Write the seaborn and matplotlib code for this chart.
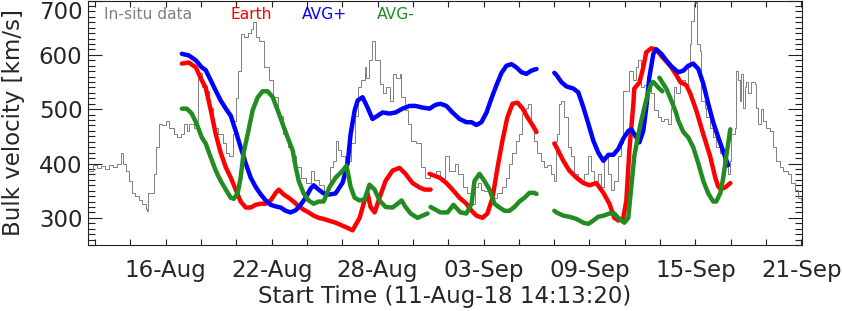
# -*- coding: utf-8 -*-
"""
Bulk velocity: in-situ data vs. model runs (Earth, AVG+, AVG-)
"""
import pandas as pd
import matplotlib
matplotlib.use('Agg')
import matplotlib.pyplot as plt
import matplotlib.dates as mdates
import matplotlib.ticker as mticker
import seaborn as sns

# 時間以 2018-08-16 00:00 起算的天數表示
ref_time = pd.Timestamp('2018-08-16')
start_time = pd.Timestamp('2018-08-11 14:13:20')
end_time = pd.Timestamp('2018-09-21 01:00:00')

# 實測資料 (灰色階梯線)
insitu_day = [-4.36, -4.13, -3.90, -3.68, -3.45, -3.23, -3.00, -2.77, -2.55, -2.43,
              -2.26, -2.09, -1.92, -1.75, -1.53, -1.36, -1.13, -1.08, -1.02, -0.79,
              -0.68, -0.57, -0.40, -0.23, 0.00, 0.17, 0.45, 0.62, 0.85, 1.02,
              1.19, 1.30, 1.58, 1.70, 1.81, 1.92, 2.04, 2.26, 2.43, 2.66,
              2.94, 3.23, 3.40, 3.57, 3.79, 3.85, 3.96, 4.07, 4.24, 4.41,
              4.64, 4.81, 4.92, 5.09, 5.26, 5.55, 5.83, 6.06, 6.34, 6.62,
              6.90, 7.19, 7.36, 7.64, 7.92, 8.21, 8.38, 8.66, 8.94, 9.17,
              9.28, 9.45, 9.62, 9.73, 9.90, 10.13, 10.30, 10.47, 10.70, 10.87,
              11.04, 11.26, 11.32, 11.54, 11.71, 11.88, 12.11, 12.28, 12.45, 12.68,
              12.85, 13.02, 13.24, 13.30, 13.53, 13.70, 13.87, 14.15, 14.43, 14.66,
              14.94, 15.28, 15.56, 15.79, 16.07, 16.36, 16.53, 16.81, 17.09, 17.32,
              17.49, 17.66, 17.88, 18.05, 18.34, 18.62, 18.79, 19.02, 19.30, 19.47,
              19.64, 19.86, 20.03, 20.20, 20.43, 20.54, 20.71, 20.88, 21.05, 21.28,
              21.45, 21.62, 21.84, 22.01, 22.13, 22.18, 22.30, 22.41, 22.58, 22.81,
              22.98, 23.15, 23.37, 23.54, 23.71, 23.94, 24.11, 24.28, 24.50, 24.67,
              24.84, 25.07, 25.24, 25.41, 25.64, 25.81, 25.92, 26.09, 26.26, 26.49,
              26.66, 26.77, 26.94, 27.11, 27.33, 27.50, 27.67, 27.90, 28.07, 28.24,
              28.47, 28.64, 28.81, 28.92, 29.15, 29.43, 29.60, 29.71, 29.77, 29.94,
              30.05, 30.11, 30.28, 30.33, 30.56, 30.62, 30.84, 31.01, 31.18, 31.41,
              31.58, 31.75, 31.86, 31.98, 32.03, 32.26, 32.31, 32.43, 32.54, 32.60,
              32.71, 32.82, 32.88, 32.99, 33.16, 33.39, 33.45, 33.56, 33.73, 33.84,
              34.01, 34.24, 34.41, 34.58, 34.80, 34.97, 35.26, 35.43, 35.65, 35.82,
              35.99]
insitu_speed = [387, 398, 392, 396, 390, 398, 394, 400, 420, 400,
                387, 368, 346, 340, 332, 326, 317, 313, 346, 346,
                380, 430, 473, 470, 479, 466, 454, 448, 454, 473,
                460, 473, 466, 478, 558, 567, 540, 534, 503, 466,
                454, 437, 420, 413, 454, 479, 520, 571, 639, 632,
                641, 648, 660, 632, 626, 577, 553, 522, 487, 454,
                430, 413, 393, 374, 365, 387, 370, 360, 345, 360,
                393, 405, 442, 424, 413, 381, 405, 437, 487, 540,
                553, 577, 558, 590, 626, 590, 547, 529, 540, 516,
                564, 558, 564, 522, 498, 473, 442, 437, 393, 374,
                381, 387, 374, 413, 387, 400, 381, 357, 345, 326,
                357, 364, 352, 350, 346, 337, 345, 357, 374, 400,
                420, 442, 454, 492, 503, 510, 473, 442, 420, 405,
                393, 398, 381, 368, 442, 454, 510, 516, 485, 430,
                413, 381, 374, 364, 381, 413, 387, 368, 381, 357,
                413, 381, 352, 368, 413, 437, 534, 534, 571, 553,
                577, 590, 540, 544, 540, 529, 498, 485, 479, 482,
                473, 503, 540, 530, 553, 547, 577, 620, 663, 695,
                700, 620, 608, 516, 503, 485, 466, 448, 430, 420,
                405, 393, 381, 405, 454, 466, 571, 553, 516, 564,
                503, 540, 550, 529, 550, 547, 503, 473, 500, 479,
                466, 460, 430, 405, 393, 387, 381, 364, 352, 337,
                332]

# Earth (紅)
earth_day = [
    [0.91, 1.30, 1.70, 2.04, 2.26, 2.55, 2.83, 3.11, 3.40, 3.68, 3.96, 4.24, 4.53,
     4.81, 5.09, 5.38, 5.66, 5.94, 6.23, 6.40, 6.68, 6.96, 7.24, 7.53, 7.81, 8.09,
     8.38, 8.66, 8.94, 9.62, 10.19, 10.58, 10.98, 11.26, 11.43, 11.60, 11.83, 12.11,
     12.45, 12.85, 13.24, 13.58, 13.98, 14.37, 14.66, 15.00],
    [14.94, 15.51, 15.90, 16.24, 16.64, 17.03, 17.32, 17.60, 17.94, 18.22, 18.51,
     18.79, 19.07, 19.35, 19.64, 19.92, 20.20, 20.49, 20.77, 21.00],
    [22.01, 22.13, 22.52, 22.86, 23.26, 23.66, 24.00, 24.39, 24.79, 25.13, 25.41,
     25.64, 25.92, 26.09, 26.26, 26.49, 26.54, 26.83, 27.05, 27.22, 27.50, 27.79,
     28.07, 28.35, 28.64, 28.92, 29.15, 29.49, 29.71, 30.05, 30.45, 30.84, 31.13,
     31.30, 31.46, 31.69, 31.98],
]
earth_speed = [
    [584, 586, 577, 553, 540, 498, 454, 420, 393, 374, 352, 330, 319,
     319, 324, 326, 326, 332, 346, 352, 343, 337, 330, 321, 315, 310,
     304, 300, 298, 291, 283, 277, 300, 332, 345, 320, 310, 337,
     368, 387, 392, 381, 364, 356, 352, 352],
    [381, 374, 364, 352, 337, 326, 313, 304, 300, 308, 337,
     392, 442, 485, 510, 512, 502, 485, 471, 458],
    [437, 430, 405, 387, 374, 364, 360, 364, 346, 326, 300,
     295, 300, 332, 424, 510, 538, 549, 577, 605, 612, 610,
     598, 588, 577, 563, 550, 544, 529, 498, 454, 413, 374,
     357, 353, 356, 364],
]

# AVG+ (藍)
avgp_day = [
    [0.91, 1.30, 1.70, 2.04, 2.26, 2.55, 2.83, 3.11, 3.40, 3.68, 3.96, 4.24, 4.53,
     4.81, 5.09, 5.38, 5.66, 5.94, 6.23, 6.51, 6.79, 7.07, 7.36, 7.64, 7.92, 8.21,
     8.38, 8.66, 8.94, 9.28, 9.62, 10.02, 10.30, 10.47, 10.70, 10.87, 11.15, 11.43,
     11.71, 12.00, 12.28, 12.68, 13.02, 13.41, 13.81, 14.15, 14.54, 14.94, 15.28,
     15.56, 15.90, 16.24, 16.64, 17.03, 17.32, 17.60, 17.88, 18.17, 18.45, 18.73,
     19.02, 19.30, 19.58, 19.86, 20.15, 20.43, 20.71, 21.00],
    [22.01, 22.13, 22.41, 22.69, 23.09, 23.37, 23.66, 23.94, 24.22, 24.50, 24.79,
     25.07, 25.35, 25.64, 25.92, 26.20, 26.37, 26.66, 26.83, 27.05, 27.22, 27.39,
     27.62, 27.79, 28.07, 28.35, 28.64, 28.92, 29.03, 29.32, 29.60, 29.88, 30.17,
     30.45, 30.73, 31.01, 31.30, 31.58, 31.86],
]
avgp_speed = [
    [602, 599, 590, 577, 572, 553, 534, 516, 501, 488, 460, 430, 400,
     374, 357, 343, 332, 324, 321, 319, 313, 310, 314, 324, 337, 354,
     360, 352, 345, 343, 345, 365, 400, 454, 498, 516, 522, 503,
     482, 488, 494, 492, 494, 501, 506, 506, 503, 501, 508,
     510, 506, 494, 482, 476, 476, 471, 476, 494, 520, 544,
     567, 580, 583, 577, 568, 565, 571, 574],
    [567, 563, 550, 542, 538, 531, 503, 473, 442, 420, 405,
     416, 416, 427, 446, 460, 463, 448, 439, 460, 503, 558,
     602, 610, 602, 590, 579, 571, 568, 571, 580, 584, 574,
     547, 510, 476, 448, 422, 397],
]

# AVG- (綠)
avgm_day = [
    [0.91, 1.19, 1.47, 1.75, 2.04, 2.26, 2.55, 2.83, 3.11, 3.40, 3.68, 3.85, 4.07,
     4.24, 4.41, 4.64, 4.92, 5.21, 5.49, 5.77, 6.06, 6.34, 6.62, 6.90, 7.19, 7.36,
     7.53, 7.81, 8.09, 8.38, 8.66, 8.94, 9.28, 9.62, 10.02, 10.24, 10.47, 10.70,
     10.98, 11.26, 11.54, 11.83, 12.11, 12.45, 12.85, 13.13, 13.36, 13.58, 13.87,
     14.26, 14.54, 14.83],
    [15.00, 15.56, 15.96, 16.30, 16.69, 17.03, 17.32, 17.49, 17.77, 18.05, 18.34,
     18.62, 18.90, 19.19, 19.47, 19.75, 20.03, 20.32, 20.60, 20.88, 21.00],
    [22.01, 22.13, 22.52, 22.86, 23.26, 23.66, 23.94, 24.22, 24.50, 24.79, 25.13,
     25.41, 25.69, 25.98, 26.20, 26.37, 26.54, 26.77, 26.94, 27.11, 27.33, 27.50,
     27.62, 27.79, 27.96, 28.13],
    [27.96, 28.35, 28.64, 28.92, 29.03, 29.32, 29.60, 29.88, 30.17, 30.45, 30.73,
     31.01, 31.18, 31.41, 31.58, 31.75, 31.98],
]
avgm_speed = [
    [501, 501, 492, 473, 448, 437, 411, 387, 368, 352, 337, 335, 345,
     374, 420, 454, 498, 522, 533, 533, 522, 498, 473, 448, 424, 393,
     368, 345, 332, 326, 330, 330, 357, 374, 387, 396, 357, 337,
     332, 334, 361, 352, 332, 320, 319, 326, 332, 320, 308,
     300, 304, 308],
    [320, 310, 310, 324, 310, 308, 326, 368, 381, 368, 352,
     326, 319, 313, 313, 320, 330, 337, 346, 346, 344],
    [313, 310, 304, 302, 298, 291, 289, 295, 302, 304, 308,
     308, 298, 291, 300, 357, 413, 454, 479, 503, 531, 547,
     550, 544, 538, 533],
    [558, 538, 516, 492, 479, 458, 448, 430, 400, 368, 345,
     330, 330, 345, 374, 413, 463],
]

y_ticks = [300, 400, 500, 600, 700]
legend_labels = ['In-situ data', 'Earth', 'AVG+', 'AVG-']
legend_colors = ['#808080', '#ff0000', '#0000ff', '#228b22']


def to_frame(day_segments, speed_segments):
    """把分段資料整理成 seaborn 需要的長表格"""
    rows = []
    for seg_id, (days, speeds) in enumerate(zip(day_segments, speed_segments)):
        for d, v in zip(days, speeds):
            rows.append({'time': ref_time + pd.Timedelta(days=d), 'speed': v, 'seg': seg_id})
    return pd.DataFrame(rows)


def main():
    sns.set_style('ticks')
    plt.rcParams['font.family'] = ['DejaVu Sans']

    fig = plt.figure(figsize=(8.42, 3.11), dpi=100)
    ax = fig.add_axes([0.1045, 0.2122, 0.848, 0.786])

    insitu_df = to_frame([insitu_day], [insitu_speed])
    sns.lineplot(data=insitu_df, x='time', y='speed', units='seg', estimator=None,
                 sort=False, color=legend_colors[0], linewidth=0.7,
                 drawstyle='steps-post', ax=ax, legend=False, zorder=1)

    model_sets = [(earth_day, earth_speed, legend_colors[1]),
                  (avgp_day, avgp_speed, legend_colors[2]),
                  (avgm_day, avgm_speed, legend_colors[3])]
    for days, speeds, color in model_sets:
        df = to_frame(days, speeds)
        sns.lineplot(data=df, x='time', y='speed', units='seg', estimator=None,
                     sort=False, color=color, linewidth=3.2,
                     solid_capstyle='round', ax=ax, legend=False, zorder=3)

    # 座標軸
    ax.set_xlim(start_time, end_time)
    ax.set_ylim(250, 700)
    ax.xaxis.set_major_locator(mticker.FixedLocator(
        mdates.date2num(pd.date_range('2018-08-16', '2018-09-21', freq='6D'))))
    ax.xaxis.set_minor_locator(mticker.FixedLocator(
        mdates.date2num(pd.date_range('2018-08-12', '2018-09-22', freq='2D'))))
    ax.xaxis.set_major_formatter(mdates.DateFormatter('%d-%b'))
    ax.yaxis.set_major_locator(mticker.FixedLocator(y_ticks))
    ax.yaxis.set_minor_locator(mticker.MultipleLocator(10))

    ax.tick_params(axis='both', which='both', direction='in', top=True, right=True,
                   color='#222222', width=0.8, labelsize=16.5)
    ax.tick_params(axis='x', which='both', length=4.3, pad=10)
    ax.tick_params(axis='y', which='major', length=10, pad=4)
    ax.tick_params(axis='y', which='minor', length=5)
    for lab in ax.get_yticklabels():
        if lab.get_text() == '700':
            lab.set_va('top')

    for spine in ax.spines.values():
        spine.set_color('#222222')
        spine.set_linewidth(0.8)

    ax.set_xlabel('Start Time (11-Aug-18 14:13:20)', fontsize=16.5)
    ax.set_ylabel('Bulk velocity [km/s]', fontsize=16.5)
    ax.xaxis.label.set_va('center')
    ax.xaxis.set_label_coords(0.5, -0.212)
    ax.yaxis.label.set_va('center')
    ax.yaxis.set_label_coords(-0.105, 0.5)

    # 圖例文字
    legend_x = [0.022, 0.199, 0.299, 0.404]
    for x, text, color in zip(legend_x, legend_labels, legend_colors):
        ax.text(x, 0.943, text, color=color, fontsize=11.2, va='center', ha='left',
                transform=ax.transAxes)

    fig.savefig('out.png', dpi=100)


if __name__ == '__main__':
    main()
